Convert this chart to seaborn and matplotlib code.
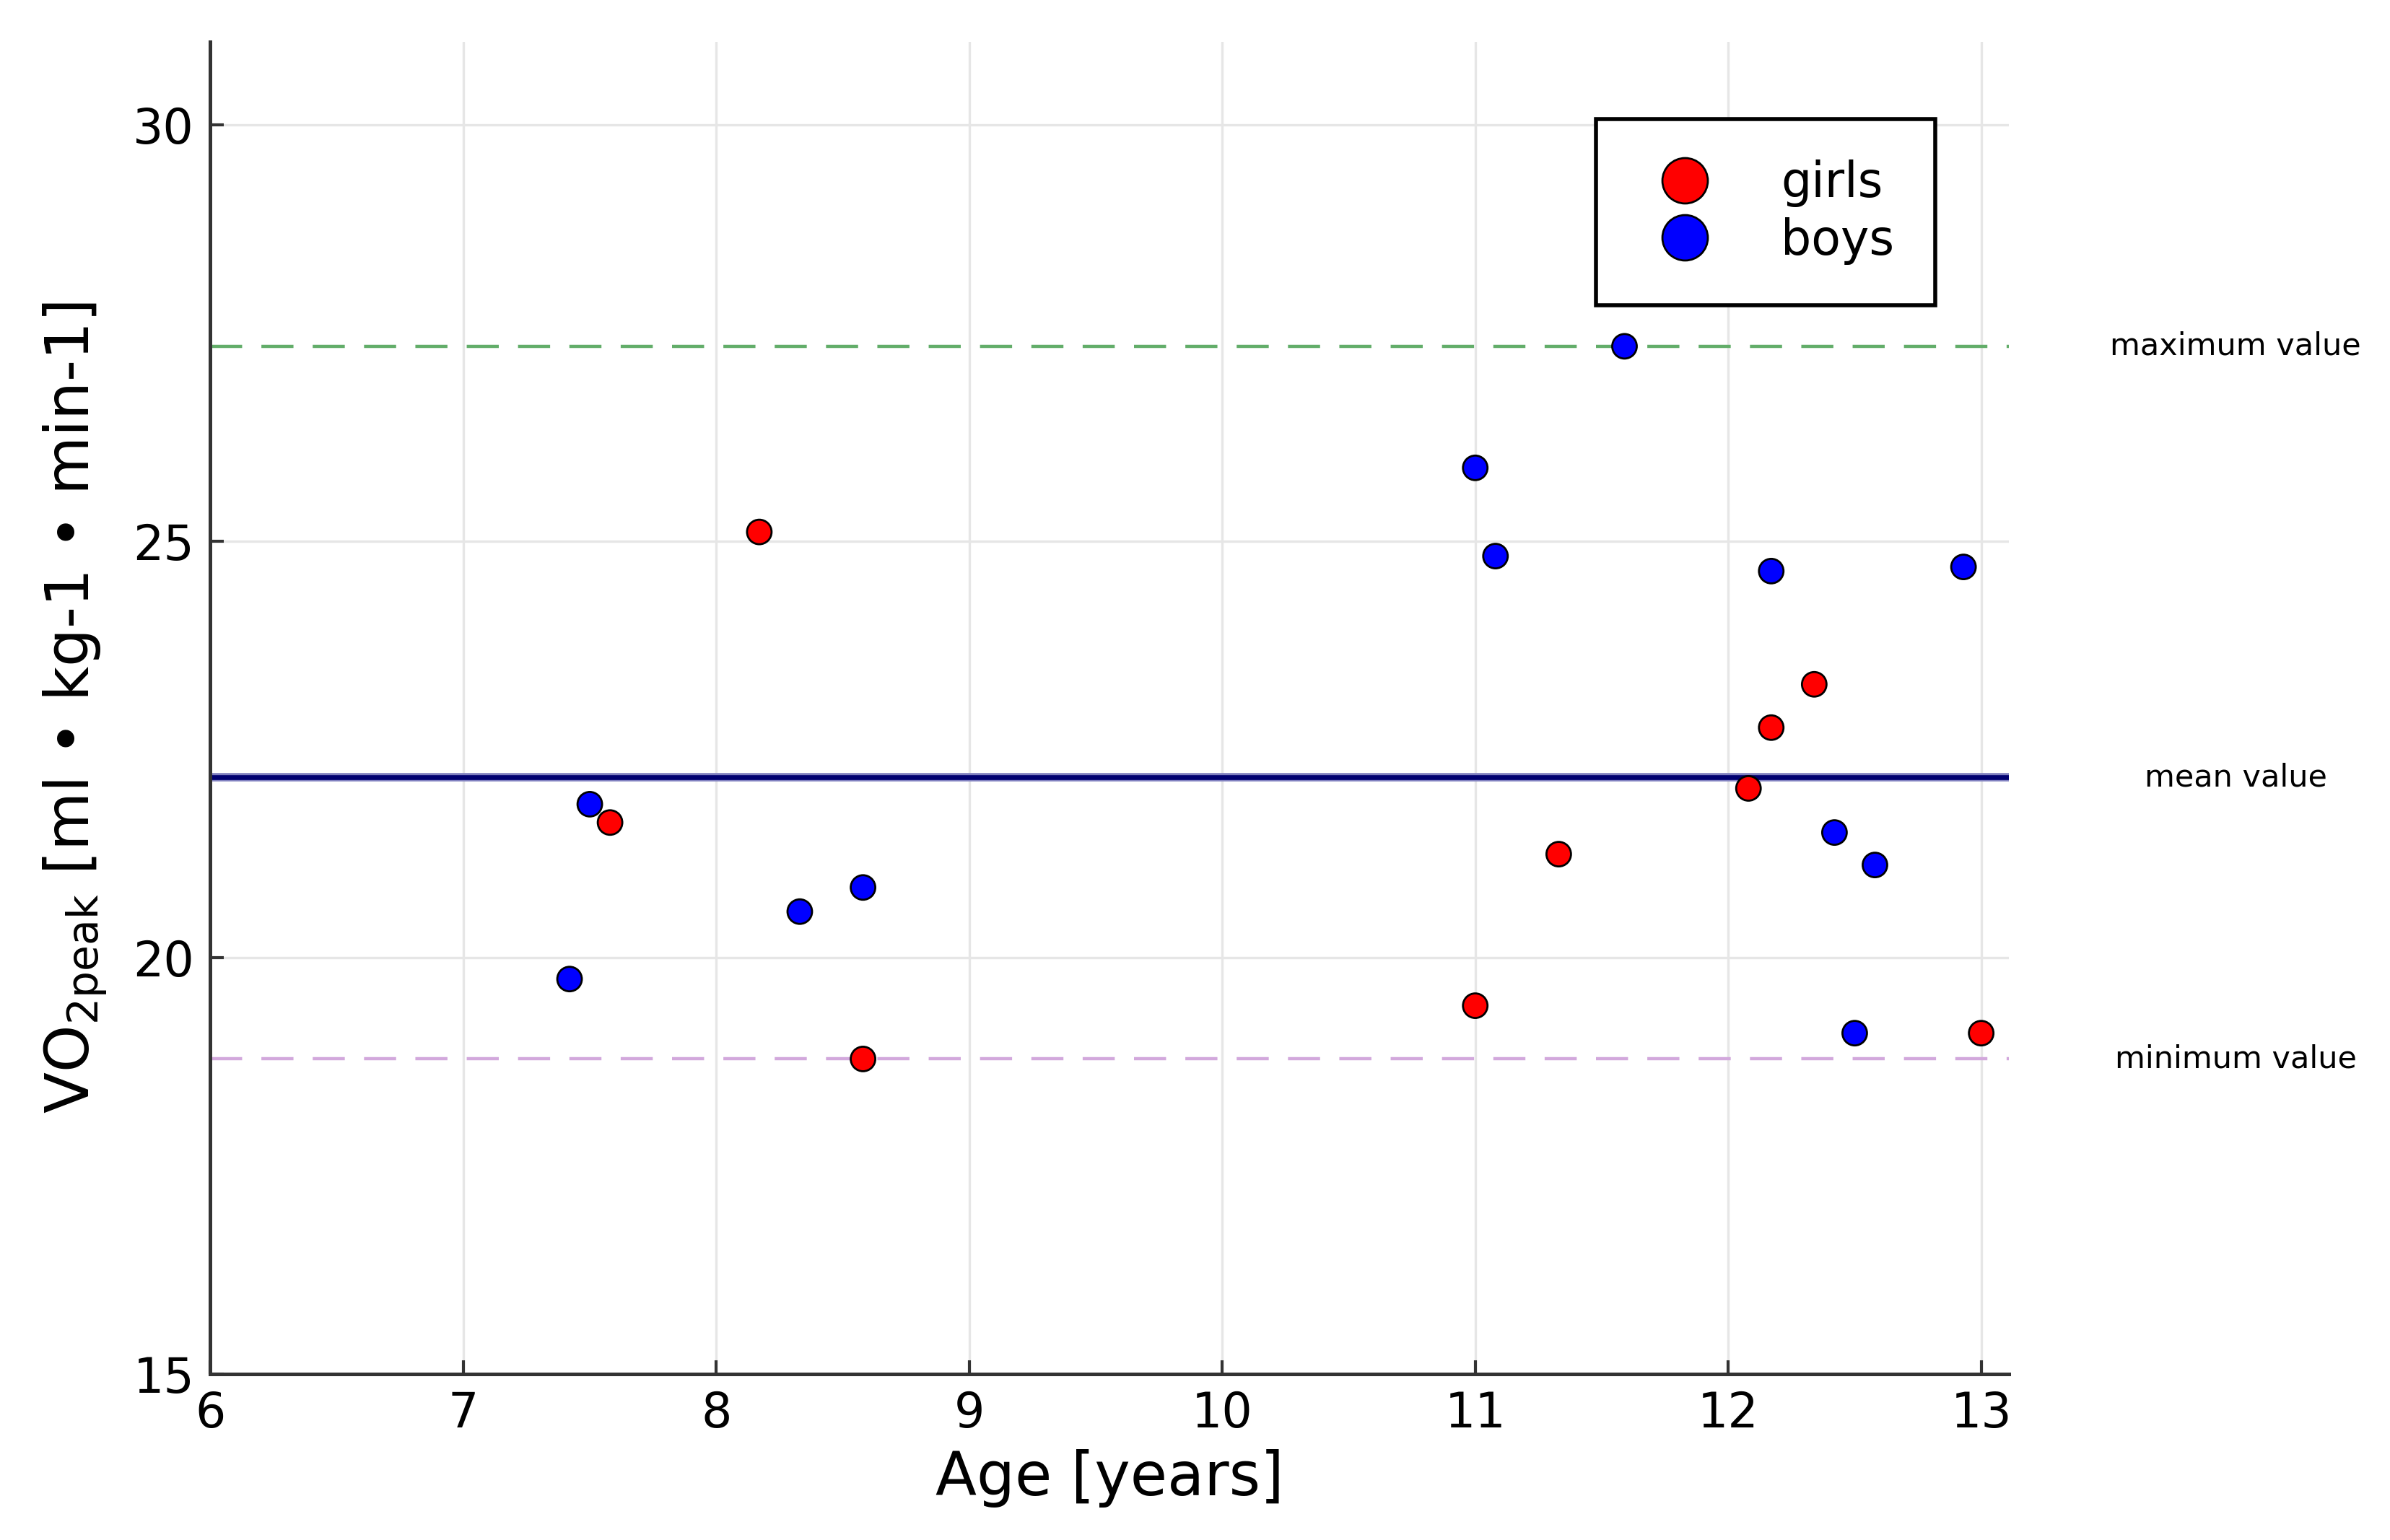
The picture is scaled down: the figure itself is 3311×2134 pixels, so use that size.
import pandas as pd
import matplotlib.pyplot as plt
import matplotlib.transforms as mtransforms
import seaborn as sns

# Datos
edad_girls = [8.17, 7.58, 8.58, 11.0, 11.33, 12.08, 12.17, 12.34, 13.0]
vo2_girls = [25.11, 21.62, 18.78, 19.42, 21.24, 22.03, 22.76, 23.28, 19.09]
edad_boys = [7.5, 7.42, 8.33, 8.58, 11.59, 11.0, 11.08, 12.17, 12.93, 12.42, 12.58, 12.5]
vo2_boys = [21.84, 19.74, 20.55, 20.84, 27.34, 25.88, 24.82, 24.64, 24.69, 21.5, 21.11, 19.09]
grupos = ["girls", "boys"]
colores = ["#ff0000", "#0000ff"]

df = pd.DataFrame({
    "age": edad_girls + edad_boys,
    "vo2": vo2_girls + vo2_boys,
    "group": ["girls"] * len(edad_girls) + ["boys"] * len(edad_boys),
})
vo2_max = df["vo2"].max()
vo2_mean = df["vo2"].mean()
vo2_min = df["vo2"].min()

sns.set_theme(style="whitegrid")
plt.rcParams['font.family'] = ['DejaVu Sans']
plt.rcParams['text.color'] = 'black'
plt.rcParams['axes.labelcolor'] = 'black'
plt.rcParams['xtick.color'] = 'black'
plt.rcParams['ytick.color'] = 'black'

fig = plt.figure(figsize=(16.555, 10.67), dpi=200)
ax = fig.add_axes([0.088, 0.108, 0.7526, 0.865])

ax.axhline(vo2_max, color="#62ad69", lw=1.6, ls=(0, (10, 6)), zorder=1)
ax.axhline(vo2_mean, color="#8080c0", lw=4.2, zorder=1)
ax.axhline(vo2_mean, color="#000070", lw=2.4, zorder=1)
ax.axhline(vo2_min, color="#d2a8dc", lw=1.6, ls=(0, (10, 6)), zorder=1)

sns.scatterplot(data=df, x="age", y="vo2", hue="group", hue_order=grupos,
                palette=colores, s=150, edgecolor="black", linewidth=1.0,
                ax=ax, zorder=3)

ax.set_xlim(6, 13.11)
ax.set_ylim(15, 31)
ax.set_xticks(range(6, 14))
ax.set_yticks([15, 20, 25, 30])
ax.set_facecolor("white")
ax.grid(True, color="#e6e6e6", lw=1.2)
for lado in ["top", "right"]:
    ax.spines[lado].set_visible(False)
for lado in ["left", "bottom"]:
    ax.spines[lado].set_color("#333333")
    ax.spines[lado].set_linewidth(1.8)
ax.tick_params(direction="in", length=7, width=1.5, color="#333333",
               labelsize=24, pad=8, bottom=True, left=True)

ax.set_xlabel("Age [years]", fontsize=30, labelpad=6)
ax.set_ylabel(r"VO$_\mathregular{2peak}$ [ml • kg-1 • min-1]", fontsize=30, labelpad=12)

trans = mtransforms.blended_transform_factory(ax.transAxes, ax.transData)
for val, txt in [(vo2_max, "maximum value"), (vo2_mean, "mean value"), (vo2_min, "minimum value")]:
    ax.text(1.126, val, txt, transform=trans, ha="center", va="center", fontsize=15.5)

leg = ax.legend(loc="upper right", bbox_to_anchor=(0.959, 0.942), fontsize=24,
                markerscale=1.85, frameon=True, fancybox=False, borderpad=0.85,
                handletextpad=1.0, labelspacing=0.2, borderaxespad=0)
leg.get_frame().set_edgecolor("black")
leg.get_frame().set_linewidth(2.0)
leg.get_frame().set_alpha(1)

fig.savefig("out.png", dpi=200)
